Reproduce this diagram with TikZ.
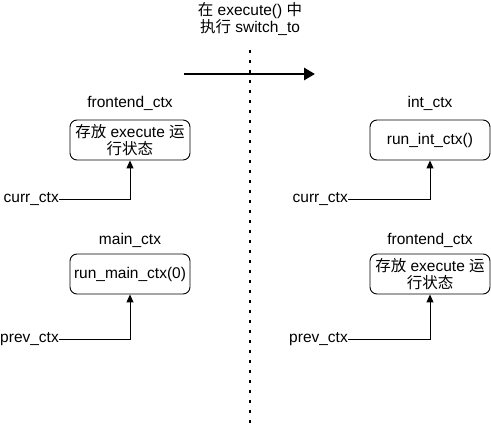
\documentclass[tikz,border=0pt]{standalone}
\usepackage{fontspec}
\setmainfont{Liberation Sans}
\newfontfamily\cjk{Noto Sans CJK SC}
\usetikzlibrary{arrows.meta}
\begin{document}
\begin{tikzpicture}[x=1pt,y=-1pt,
  font=\fontsize{15.5}{17}\selectfont,
  box/.style={draw,rounded corners=7pt,minimum width=120pt,minimum height=40pt,align=center,inner sep=1pt,line width=0.9pt},
  lbl/.style={inner sep=0pt},
  conn/.style={line width=0.9pt,-{Triangle[length=8pt,width=7pt]}}]
\useasboundingbox (0,0) rectangle (491,427);
% top text
\node[lbl,align=center] (title) at (250,19) {{\cjk 在} execute() {\cjk 中}\\[0pt]{\cjk 执行} switch\_to};
% arrow and dotted line
\coordinate (a1) at (184,74);
\coordinate (a2) at (315,74);
\draw[line width=2.8pt,-{Triangle[length=11pt,width=12pt]}] (a1) -- (a2);
\coordinate (d1) at (250,50);
\coordinate (d2) at (250,427);
\draw[line width=2.8pt,dash pattern=on 2.8pt off 7.2pt] (d1) -- (d2);
% left column
\node[lbl] (lfl) at (130,103) {frontend\_ctx};
\node[box] (lf) at (130,140) {{\cjk 存放} execute {\cjk 运}\\{\cjk 行状态}};
\node[lbl,anchor=east] (lcurr) at (59,199) {curr\_ctx};
\draw[conn] (lcurr.east) -| (lf.south);
\node[lbl] (lml) at (130,240) {main\_ctx};
\node[box] (lm) at (130,274) {run\_main\_ctx(0)};
\node[lbl,anchor=east] (lprev) at (59,339) {prev\_ctx};
\draw[conn] (lprev.east) -| (lm.south);
% right column
\node[lbl] (ril) at (430,103) {int\_ctx};
\node[box] (ri) at (430,140) {run\_int\_ctx()};
\node[lbl,anchor=east] (rcurr) at (348,199) {curr\_ctx};
\draw[conn] (rcurr.east) -| (ri.south);
\node[lbl] (rfl) at (430,240) {frontend\_ctx};
\node[box] (rf) at (430,274) {{\cjk 存放} execute {\cjk 运}\\{\cjk 行状态}};
\node[lbl,anchor=east] (rprev) at (348,339) {prev\_ctx};
\draw[conn] (rprev.east) -| (rf.south);
\end{tikzpicture}
\end{document}
